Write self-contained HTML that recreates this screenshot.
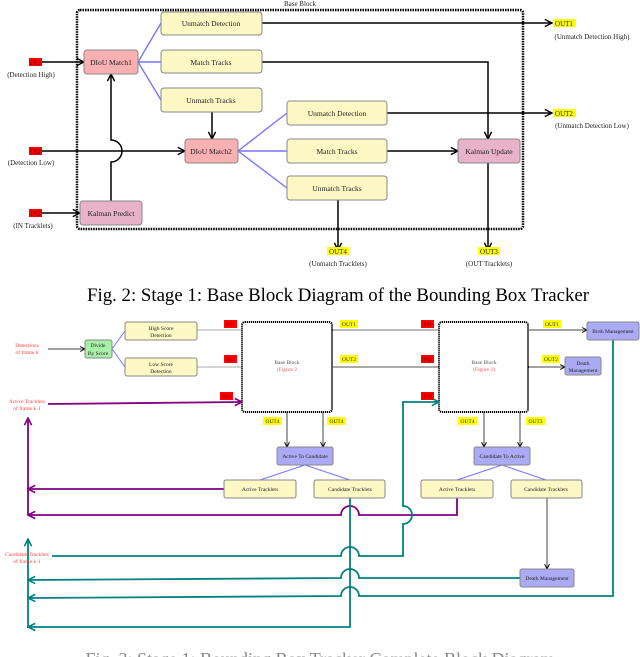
<!DOCTYPE html>
<html><head><meta charset="utf-8"><style>
html,body{margin:0;padding:0;background:#fff;}
svg{display:block;font-family:"Liberation Serif",serif;}
</style></head><body>
<svg width="640" height="657" viewBox="0 0 640 657" xmlns="http://www.w3.org/2000/svg">
<defs>
<marker id="a" viewBox="0 0 10 10" refX="9" refY="5" markerWidth="6" markerHeight="6" orient="auto-start-reverse"><path d="M1,1 L9,5 L1,9" fill="none" stroke="#000" stroke-width="1.6"/></marker>
<marker id="ap" viewBox="0 0 10 10" refX="9" refY="5" markerWidth="5" markerHeight="5" orient="auto-start-reverse"><path d="M1,1 L9,5 L1,9" fill="none" stroke="#800080" stroke-width="1.8"/></marker>
<marker id="at" viewBox="0 0 10 10" refX="9" refY="5" markerWidth="5" markerHeight="5" orient="auto-start-reverse"><path d="M1,1 L9,5 L1,9" fill="none" stroke="#008080" stroke-width="1.8"/></marker>
</defs>
<g font-size="7.5" text-anchor="middle" fill="#222">
<!-- TOP DIAGRAM -->
<text x="300" y="6" font-size="7">Base Block</text>
<rect x="77" y="10" width="446" height="219" rx="3" fill="none" stroke="#000" stroke-width="2.5" stroke-dasharray="1.5,1"/>
<g stroke="#7777ff" stroke-width="1.4" fill="none">
<path d="M138,62 L161,23 M138,62 L161,62 M138,62 L161,100"/>
<path d="M238,151 L287,113 M238,151 L287,151 M238,151 L287,188"/>
</g>
<g stroke="#000" stroke-width="1.5" fill="none">
<path d="M262,23 L552,23" marker-end="url(#a)"/>
<path d="M262,62 L488,62 L488,139" marker-end="url(#a)"/>
<path d="M212,112 L212,139" marker-end="url(#a)"/>
<path d="M387,113 L552,113" marker-end="url(#a)"/>
<path d="M387,151 L458,151" marker-end="url(#a)"/>
<path d="M42,62 L84,62" marker-end="url(#a)"/>
<path d="M42,151 L185,151" marker-end="url(#a)"/>
<path d="M42,213 L80,213" marker-end="url(#a)"/>
<path d="M111,201 L111,162 A11,11 0 0 0 111,140 L111,74" marker-end="url(#a)"/>
<path d="M338,200 L338,250" marker-end="url(#a)"/>
<path d="M488,163 L488,250" marker-end="url(#a)"/>
</g>
<g stroke="#888" stroke-width="1">
<rect x="161" y="12" width="101" height="23" rx="3" fill="#fdf8c4"/>
<rect x="161" y="50" width="101" height="23" rx="3" fill="#fdf8c4"/>
<rect x="161" y="88" width="101" height="24" rx="3" fill="#fdf8c4"/>
<rect x="287" y="101" width="100" height="24" rx="3" fill="#fdf8c4"/>
<rect x="287" y="139" width="100" height="24" rx="3" fill="#fdf8c4"/>
<rect x="287" y="176" width="100" height="24" rx="3" fill="#fdf8c4"/>
<rect x="84" y="50" width="54" height="24" rx="3" fill="#f9b0b2"/>
<rect x="185" y="139" width="53" height="24" rx="3" fill="#f9b0b2"/>
<rect x="458" y="139" width="62" height="24" rx="3" fill="#e8b2c8"/>
<rect x="80" y="201" width="62" height="24" rx="3" fill="#e8b2c8"/>
</g>
<text x="211" y="26">Unmatch Detection</text>
<text x="211" y="65">Match Tracks</text>
<text x="211" y="103">Unmatch Tracks</text>
<text x="337" y="116">Unmatch Detection</text>
<text x="337" y="154">Match Tracks</text>
<text x="337" y="191">Unmatch Tracks</text>
<text x="111" y="65">DIoU Match1</text>
<text x="211" y="154">DIoU Match2</text>
<text x="489" y="154">Kalman Update</text>
<text x="111" y="216">Kalman Predict</text>
<rect x="29" y="58" width="13" height="8" fill="#f00"/><text x="35.5" y="65" font-size="7" fill="#600">IN1</text>
<rect x="29" y="147" width="13" height="8" fill="#f00"/><text x="35.5" y="154" font-size="7" fill="#600">IN2</text>
<rect x="29" y="209" width="13" height="8" fill="#f00"/><text x="35.5" y="216" font-size="7" fill="#600">IN3</text>
<text x="31" y="77" font-size="7">(Detection High)</text>
<text x="31" y="165" font-size="7">(Detection Low)</text>
<text x="33" y="228" font-size="7">(IN Tracklets)</text>
<rect x="553" y="19" width="23" height="8" fill="#ff0"/><text x="564" y="26" font-size="7">OUT1</text>
<rect x="553" y="109" width="23" height="8" fill="#ff0"/><text x="564" y="116" font-size="7">OUT2</text>
<rect x="327" y="247" width="22" height="8" fill="#ff0"/><text x="338" y="254" font-size="7">OUT4</text>
<rect x="478" y="247" width="22" height="8" fill="#ff0"/><text x="489" y="254" font-size="7">OUT3</text>
<text x="592" y="39" font-size="7">(Unmatch Detection High)</text>
<text x="592" y="128" font-size="7">(Unmatch Detection Low)</text>
<text x="338" y="266" font-size="7">(Unmatch Tracklets)</text>
<text x="489" y="266" font-size="7">(OUT Tracklets)</text>
<text x="338" y="301" font-size="18.5" fill="#000" textLength="502" lengthAdjust="spacingAndGlyphs" text-anchor="middle">Fig. 2: Stage 1: Base Block Diagram of the Bounding Box Tracker</text>

<!-- BOTTOM DIAGRAM -->
<g stroke="#7777ff" stroke-width="1" fill="none">
<path d="M112,349 L125,331 M112,349 L125,367"/>
<path d="M305,465 L260,480 M305,465 L350,480"/>
<path d="M502,465 L457,480 M502,465 L546,480"/>
</g>
<g stroke="#444" stroke-width="1" fill="none">
<path d="M48,349 L85,349" marker-end="url(#a)"/>
<path d="M197,330 L242,330" stroke="#aaa"/>
<path d="M197,367 L242,367" stroke="#aaa"/>
<path d="M332,330 L439,330" stroke="#777"/>
<path d="M332,367 L439,367" stroke="#555"/>
<path d="M528,330 L587,330" marker-end="url(#a)"/>
<path d="M528,367 L565,367" marker-end="url(#a)"/>
<path d="M287,412 L287,447" marker-end="url(#a)"/>
<path d="M323,412 L323,447" marker-end="url(#a)"/>
<path d="M484,412 L484,447" marker-end="url(#a)"/>
<path d="M520,412 L520,447" marker-end="url(#a)"/>
<path d="M547,498 L547,569" marker-end="url(#a)"/>
</g>
<rect x="242" y="322" width="90" height="90" rx="3" fill="none" stroke="#000" stroke-width="2" stroke-dasharray="1.2,0.8"/>
<rect x="439" y="322" width="89" height="90" rx="3" fill="none" stroke="#000" stroke-width="2" stroke-dasharray="1.2,0.8"/>
<g font-size="5.5">
<text x="287" y="364" fill="#555">Base Block</text><text x="287" y="371" fill="#f55">(Figure 2</text>
<text x="484" y="364" fill="#555">Base Block</text><text x="484" y="371" fill="#f55">(Figure 2)</text>
</g>
<!-- purple -->
<g stroke="#800080" stroke-width="1.8" fill="none">
<path d="M48,404 L242,402" marker-end="url(#ap)"/>
<path d="M28,515 L28,418" marker-end="url(#ap)"/>
<path d="M224,489 L28,489" marker-end="url(#ap)"/>
<path d="M457,498 L457,515 L359,515 A9,9 0 0 0 341,515 L28,515" marker-end="url(#ap)"/>
</g>
<!-- teal -->
<g stroke="#008080" stroke-width="1.8" fill="none">
<path d="M52,556 L341,556 A9,9 0 0 1 359,556 L403,556 L403,524 A9,9 0 0 0 403,506 L403,402 L439,402" marker-end="url(#at)"/>
<path d="M28,628 L28,539" marker-end="url(#at)"/>
<path d="M350,498 L350,627 L28,627" marker-end="url(#at)"/>
<path d="M520,578 L359,578 A9,9 0 0 0 341,578 L28,580" marker-end="url(#at)"/>
<path d="M613,340 L613,596 L359,596 A9,9 0 0 0 341,596 L28,598" marker-end="url(#at)"/>
</g>
<g stroke="#888" stroke-width="1">
<rect x="85" y="340" width="27" height="18" rx="2" fill="#a8f0a8"/>
<rect x="125" y="322" width="72" height="18" rx="2" fill="#fdf8c4"/>
<rect x="125" y="358" width="72" height="18" rx="2" fill="#fdf8c4"/>
<rect x="587" y="322" width="52" height="18" rx="2" fill="#aaaaf5"/>
<rect x="565" y="357" width="36" height="18" rx="2" fill="#aaaaf5"/>
<rect x="277" y="447" width="56" height="18" rx="2" fill="#aaaaf5"/>
<rect x="474" y="447" width="56" height="18" rx="2" fill="#aaaaf5"/>
<rect x="224" y="480" width="72" height="18" rx="2" fill="#fdf8c4"/>
<rect x="314" y="480" width="71" height="18" rx="2" fill="#fdf8c4"/>
<rect x="421" y="480" width="72" height="18" rx="2" fill="#fdf8c4"/>
<rect x="511" y="480" width="71" height="18" rx="2" fill="#fdf8c4"/>
<rect x="520" y="569" width="54" height="18" rx="2" fill="#aaaaf5"/>
</g>
<g font-size="5.5">
<text x="98" y="347">Divide</text><text x="98" y="355">By Score</text>
<text x="161" y="330">High Score</text><text x="161" y="337">Detection</text>
<text x="161" y="366">Low Score</text><text x="161" y="373">Detection</text>
<text x="613" y="333">Birth Management</text>
<text x="583" y="365">Death</text><text x="583" y="372">Management</text>
<text x="305" y="458">Active To Candidate</text>
<text x="502" y="458">Candidate To Active</text>
<text x="260" y="491">Active Tracklets</text>
<text x="350" y="491">Candidate Tracklets</text>
<text x="457" y="491">Active Tracklets</text>
<text x="546" y="491">Candidate Tracklets</text>
<text x="547" y="580">Death Management</text>
<g fill="#f44">
<text x="27" y="347">Detections</text><text x="27" y="354">of frame k</text>
<text x="27" y="403">Active Tracklets</text><text x="27" y="410">of frame k-1</text>
<text x="27" y="556">Candidate Tracklets</text><text x="27" y="563">of frame k-1</text>
</g>
<rect x="224" y="320" width="13" height="8" fill="#f00"/><text x="230.5" y="326" fill="#600">IN1</text>
<rect x="224" y="355" width="13" height="8" fill="#f00"/><text x="230.5" y="361" fill="#600">IN2</text>
<rect x="220" y="392" width="13" height="8" fill="#f00"/><text x="226.5" y="398" fill="#600">IN3</text>
<rect x="421" y="320" width="13" height="8" fill="#f00"/><text x="427.5" y="326" fill="#600">IN1</text>
<rect x="421" y="355" width="13" height="8" fill="#f00"/><text x="427.5" y="361" fill="#600">IN2</text>
<rect x="421" y="392" width="13" height="8" fill="#f00"/><text x="427.5" y="398" fill="#600">IN3</text>
<rect x="340" y="320" width="18" height="8" fill="#ff0"/><text x="349" y="326">OUT1</text>
<rect x="340" y="355" width="18" height="8" fill="#ff0"/><text x="349" y="361">OUT2</text>
<rect x="543" y="320" width="18" height="8" fill="#ff0"/><text x="552" y="326">OUT1</text>
<rect x="542" y="355" width="18" height="8" fill="#ff0"/><text x="551" y="361">OUT2</text>
<rect x="263" y="417" width="19" height="8" fill="#ff0"/><text x="272.5" y="423">OUT4</text>
<rect x="327" y="417" width="19" height="8" fill="#ff0"/><text x="336.5" y="423">OUT4</text>
<rect x="458" y="417" width="19" height="8" fill="#ff0"/><text x="467.5" y="423">OUT4</text>
<rect x="526" y="417" width="19" height="8" fill="#ff0"/><text x="535.5" y="423">OUT3</text>
</g>
<text x="320" y="665" font-size="18" fill="#888">Fig. 3: Stage 1: Bounding Box Tracker Complete Block Diagram</text>
</g>
</svg>
</body></html>
